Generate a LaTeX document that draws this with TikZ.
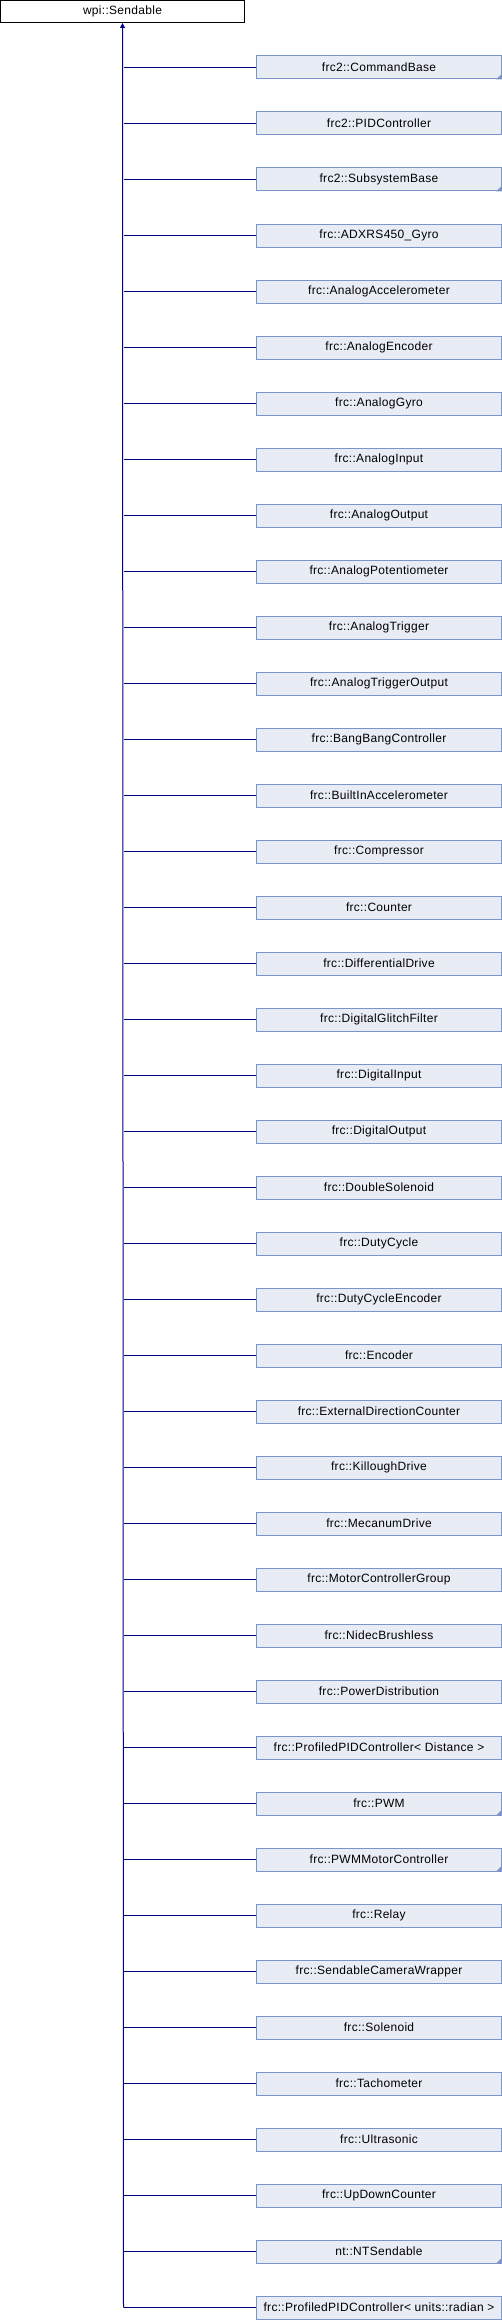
\documentclass[tikz,border=0pt]{standalone}
\usepackage{fontspec}
\setmainfont{Liberation Sans}[LetterSpace=2.5]
\usetikzlibrary{arrows.meta}
\definecolor{boxfill}{RGB}{232,236,245}
\definecolor{boxline}{RGB}{124,149,201}
\definecolor{linkcol}{RGB}{0,0,140}
\begin{document}
\begin{tikzpicture}[x=1pt,y=-1pt,
  cls/.style={draw=boxline,fill=boxfill,line width=1pt,minimum width=245pt,minimum height=23pt,inner sep=0pt,font=\fontsize{12}{14}\selectfont},
  base/.style={draw=black,fill=white,line width=1pt,minimum width=244pt,minimum height=22pt,inner sep=0pt,font=\fontsize{12}{14}\selectfont},
  link/.style={draw=linkcol,line width=1pt},
  cornermark/.style={fill=boxline}]
\useasboundingbox (0,0) rectangle (502,2320);
\node[base] (top) at (122.5,11.5) {wpi::Sendable};
\foreach \t [count=\i] in {frc2::CommandBase,frc2::PIDController,frc2::SubsystemBase,frc::ADXRS450\_Gyro,frc::AnalogAccelerometer,frc::AnalogEncoder,frc::AnalogGyro,frc::AnalogInput,frc::AnalogOutput,frc::AnalogPotentiometer,frc::AnalogTrigger,frc::AnalogTriggerOutput,frc::BangBangController,frc::BuiltInAccelerometer,frc::Compressor,frc::Counter,frc::DifferentialDrive,frc::DigitalGlitchFilter,frc::DigitalInput,frc::DigitalOutput,frc::DoubleSolenoid,frc::DutyCycle,frc::DutyCycleEncoder,frc::Encoder,frc::ExternalDirectionCounter,frc::KilloughDrive,frc::MecanumDrive,frc::MotorControllerGroup,frc::NidecBrushless,frc::PowerDistribution,frc::ProfiledPIDController< Distance >,frc::PWM,frc::PWMMotorController,frc::Relay,frc::SendableCameraWrapper,frc::Solenoid,frc::Tachometer,frc::Ultrasonic,frc::UpDownCounter,nt::NTSendable,frc::ProfiledPIDController< units::radian >}{
  \pgfmathsetmacro\yy{67.5+56*(\i-1)}
  \node[cls] (c\i) at (379,\yy) {\t};
  \coordinate (j\i) at (123.5,\yy);
  \draw[link] (j\i) -- (c\i.west);
}
\foreach \i in {1,3,32,33,40}{
  \fill[cornermark] (c\i.south east) -- ++(-6,0) -- ++(6,-6) -- cycle;
}
\draw[link,-{Triangle[width=5pt,length=5pt]}] (j41) -- (top.south);
\end{tikzpicture}
\end{document}
